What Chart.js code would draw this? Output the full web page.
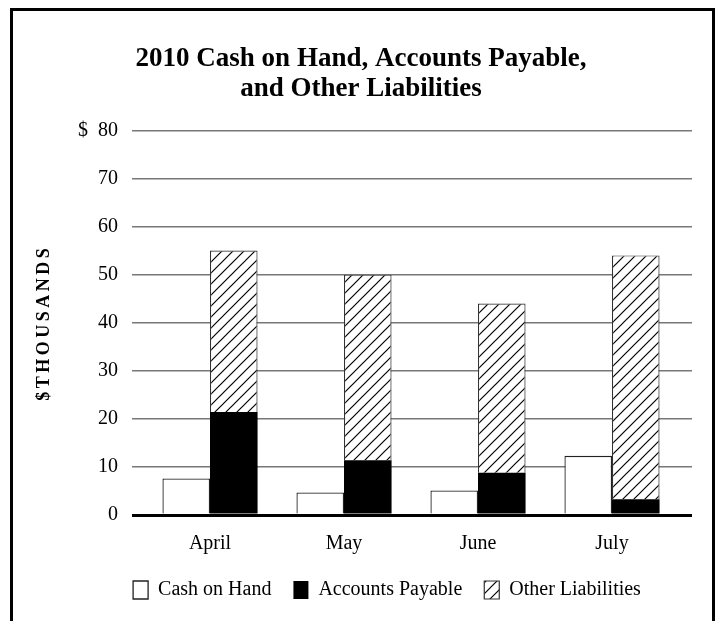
<!DOCTYPE html>
<html>
<head>
<meta charset="utf-8">
<title>2010 Cash on Hand, Accounts Payable, and Other Liabilities</title>
<script src="https://cdn.jsdelivr.net/npm/chart.js@4.4.1/dist/chart.umd.min.js"></script>
<style>
    html, body { margin: 0; padding: 0; background: #fff; }
    .wrap { position: relative; width: 717px; height: 621px; overflow: hidden; }
    .frame {
        position: absolute; left: 10px; top: 8px;
        width: 705px; height: 700px;
        box-sizing: border-box;
        border: 3px solid #000;
        pointer-events: none;
    }
    #cashChart { position: absolute; left: 0; top: 0; }
</style>
</head>
<body>
<div class="wrap">
    <canvas id="cashChart" width="717" height="621"></canvas>
    <div class="frame"></div>
</div>
<script>
    // --- Data (in $ thousands) ---
    const months = ['April', 'May', 'June', 'July'];
    const cashOnHand = [7.6, 4.7, 5.1, 12.3];
    const accountsPayable = [21.4, 11.4, 8.8, 3.3];
    const otherLiabilities = [33.6, 38.6, 35.2, 50.7];
    const yTicks = [0, 10, 20, 30, 40, 50, 60, 70, 80];

    Chart.defaults.font.family = "'Liberation Serif', 'Times New Roman', serif";
    Chart.defaults.color = '#000';

    // diagonal hatch for "Other Liabilities"
    function makeHatch() {
        const size = 11;
        const tile = document.createElement('canvas');
        tile.width = size;
        tile.height = size;
        const g = tile.getContext('2d');
        g.fillStyle = '#fff';
        g.fillRect(0, 0, size, size);
        g.strokeStyle = '#000';
        g.lineWidth = 1.2;
        g.beginPath();
        g.moveTo(0, size); g.lineTo(size, 0);
        g.moveTo(-1, 1); g.lineTo(1, -1);
        g.moveTo(size - 1, size + 1); g.lineTo(size + 1, size - 1);
        g.stroke();
        return g.createPattern(tile, 'repeat');
    }

    // grid: grey lines, heavy black line at zero
    const gridColor = (ctx) => (ctx.tick && ctx.tick.value === 0 ? '#000' : '#777');
    const gridWidth = (ctx) => (ctx.tick && ctx.tick.value === 0 ? 3 : 1.5);

    // small tweaks: spaced-out axis title, legend nudged right like the original
    const layoutTweaks = {
        id: 'layoutTweaks',
        afterLayout(chart) {
            const s = chart.scales.y;
            if (!s._spaced) {
                const orig = s.drawTitle;
                s.drawTitle = function () {
                    this.ctx.save();
                    this.ctx.letterSpacing = '3.5px';
                    orig.call(this);
                    this.ctx.restore();
                };
                s._spaced = true;
            }
            chart.legend.left += 26;
            chart.legend.right += 26;
        }
    };

    const ctx = document.getElementById('cashChart').getContext('2d');
    const cashChart = new Chart(ctx, {
        type: 'bar',
        data: {
            labels: months,
            datasets: [
                {
                    label: 'Cash on Hand',
                    data: cashOnHand,
                    stack: 'cash',
                    backgroundColor: '#fff',
                    borderColor: '#222',
                    borderWidth: 1.3
                },
                {
                    label: 'Accounts Payable',
                    data: accountsPayable,
                    stack: 'liab',
                    backgroundColor: '#000',
                    borderColor: '#000',
                    borderWidth: 0
                },
                {
                    label: 'Other Liabilities',
                    data: otherLiabilities,
                    stack: 'liab',
                    backgroundColor: makeHatch(),
                    borderColor: '#333',
                    borderWidth: 1.2
                }
            ]
        },
        options: {
            responsive: false,
            animation: false,
            categoryPercentage: 0.71,
            barPercentage: 1,
            layout: { padding: { left: 30, right: 25, top: 0, bottom: 11 } },
            plugins: {
                title: {
                    display: true,
                    text: ['2010 Cash on Hand, Accounts Payable,', 'and Other Liabilities'],
                    font: { size: 27, weight: 'bold', lineHeight: 1.1 },
                    color: '#000',
                    padding: { top: 44, bottom: 27 }
                },
                legend: {
                    position: 'bottom',
                    labels: {
                        boxWidth: 15,
                        boxHeight: 18,
                        padding: 22,
                        font: { size: 20 },
                        color: '#000'
                    }
                },
                tooltip: { enabled: false }
            },
            scales: {
                x: {
                    stacked: true,
                    afterFit: (scale) => { scale.height = 43; },
                    grid: { display: false, drawTicks: false },
                    border: { display: false },
                    ticks: { font: { size: 20 }, padding: 17 }
                },
                y: {
                    stacked: true,
                    min: 0,
                    max: 80,
                    afterBuildTicks: (scale) => { scale.ticks = yTicks.map(v => ({ value: v })); },
                    afterFit: (scale) => { scale.width = 113; },
                    grid: { color: gridColor, tickColor: gridColor, lineWidth: gridWidth, tickLength: 11 },
                    border: { display: false },
                    ticks: {
                        font: { size: 20 },
                        padding: 14,
                        callback: (v) => (v === 80 ? '$\u2002' + v : v)
                    },
                    title: {
                        display: true,
                        text: '$THOUSANDS',
                        font: { size: 18, weight: 'bold' },
                        padding: { top: 4, bottom: 0 }
                    }
                },
                y2: {
                    position: 'right',
                    min: 0,
                    max: 80,
                    afterBuildTicks: (scale) => { scale.ticks = yTicks.map(v => ({ value: v })); },
                    grid: { drawOnChartArea: false, color: gridColor, tickColor: gridColor, lineWidth: gridWidth, tickLength: 13 },
                    border: { display: false },
                    ticks: { display: false }
                }
            }
        },
        plugins: [layoutTweaks]
    });
</script>
</body>
</html>
